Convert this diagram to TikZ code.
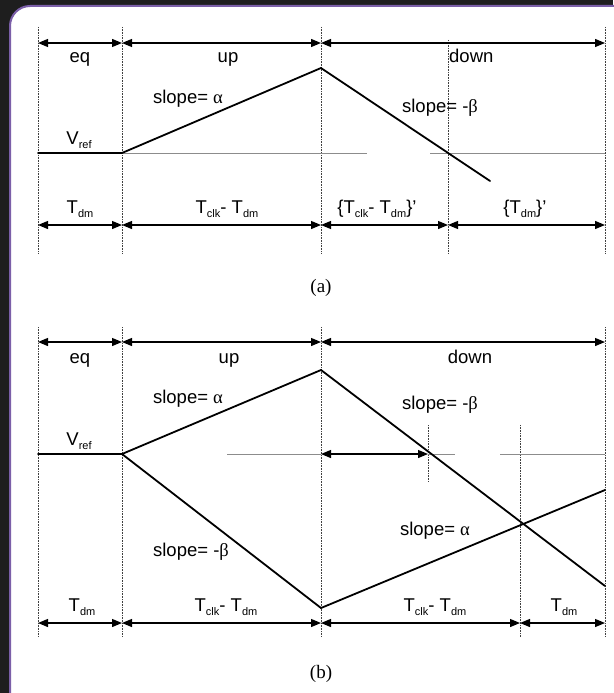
\documentclass[tikz,border=0pt]{standalone}
\usepackage{fontspec}
\setmainfont{Liberation Sans}
\newfontfamily\capfont{Liberation Serif}
\usetikzlibrary{arrows.meta}
\definecolor{bgdark}{HTML}{1E1E1E}
\definecolor{framepurple}{HTML}{7B5FA8}
\newcommand\sbs[1]{\raisebox{-0.25em}{\fontsize{11}{11}\selectfont #1}}
\newcommand\gra{{\capfont α}}
\newcommand\grb{{\capfont β}}
\begin{document}
\begin{tikzpicture}[x=1pt,y=-1pt,
  lbl/.style={font=\fontsize{18.5}{20}\selectfont, inner sep=0pt, anchor=base},
  capt/.style={font=\capfont\fontsize{19}{21}\selectfont, inner sep=0pt, anchor=base},
  wave/.style={line width=1.8pt, line join=miter, line cap=round},
  vref/.style={line width=0.8pt, black!45},
  gridline/.style={line width=0.7pt, black!75, dash pattern=on 0.8pt off 0.8pt},
  dim/.style={line width=1.2pt, {Triangle[length=10pt,width=8pt]}-{Triangle[length=10pt,width=8pt]}},
]
\useasboundingbox (0,0) rectangle (613,693);
\fill[bgdark] (0,0) rectangle (613,693);
\draw[framepurple, line width=2pt, fill=white, rounded corners=20pt] (10,6) rectangle (640,720);

% ---------------- panel (a) ----------------
\foreach \n/\x in {0/38,1/122,2/321,3/448,4/605}{
  \coordinate (aT\n) at (\x,43);
  \coordinate (aB\n) at (\x,225);
  \coordinate (aG\n) at (\x,27);
  \coordinate (aE\n) at (\x,253);
}
\coordinate (aG3) at (448,40);
\foreach \n in {0,1,2,3,4}{\draw[gridline] (aG\n) -- (aE\n);}
\draw[dim] (aT0) -- (aT1);
\draw[dim] (aT1) -- (aT2);
\draw[dim] (aT2) -- (aT4);
\draw[dim] (aB0) -- (aB1);
\draw[dim] (aB1) -- (aB2);
\draw[dim] (aB2) -- (aB3);
\draw[dim] (aB3) -- (aB4);

\coordinate (aV0) at (38,153);
\coordinate (aV1) at (122,153);
\coordinate (aPk) at (321,68);
\coordinate (aEnd) at (490,181);
\coordinate (aR1) at (367,153);
\coordinate (aR2) at (430,153);
\coordinate (aR3) at (605,153);
\draw[vref] (aV1) -- (aR1);
\draw[vref] (aR2) -- (aR3);
\draw[wave] (aV0) -- (aV1) -- (aPk) -- (aEnd);

\node[lbl] (aeq) at (80,63) {eq};
\node[lbl] (aup) at (228,63) {up};
\node[lbl, anchor=base west] (adown) at (449,63) {down};
\node[lbl] (asa) at (188,103) {slope= \gra};
\node[lbl] (asb) at (440,112) {slope= -\grb};
\node[lbl] (avr) at (79,144) {V\sbs{ref}};
\node[lbl] (at1) at (80,213) {T\sbs{dm}};
\node[lbl] (at2) at (227,213) {T\sbs{clk}- T\sbs{dm}};
\node[lbl] (at3) at (377,213) {\{T\sbs{clk}- T\sbs{dm}\}'};
\node[lbl] (at4) at (525,213) {\{T\sbs{dm}\}'};
\node[capt] (acap) at (321,292) {(a)};

% ---------------- panel (b) ----------------
\foreach \n/\x in {0/38,1/122,2/321,4/605}{
  \coordinate (bT\n) at (\x,342);
  \coordinate (bG\n) at (\x,327);
  \coordinate (bE\n) at (\x,637);
}
\foreach \n/\x in {0/38,1/122,2/321,3/520,4/605}{
  \coordinate (bB\n) at (\x,623);
}
\coordinate (bG3) at (520,425);
\coordinate (bE3) at (520,637);
\coordinate (bGx) at (428,425);
\coordinate (bEx) at (428,482);
\foreach \n in {0,1,2,3,4}{\draw[gridline] (bG\n) -- (bE\n);}
\draw[gridline] (bGx) -- (bEx);
\draw[dim] (bT0) -- (bT1);
\draw[dim] (bT1) -- (bT2);
\draw[dim] (bT2) -- (bT4);
\draw[dim] (bB0) -- (bB1);
\draw[dim] (bB1) -- (bB2);
\draw[dim] (bB2) -- (bB3);
\draw[dim] (bB3) -- (bB4);

\coordinate (bV0) at (38,454);
\coordinate (bV1) at (122,454);
\coordinate (bPk) at (321,370);
\coordinate (bEnd1) at (605,586);
\coordinate (bLo) at (321,608);
\coordinate (bEnd2) at (605,490);
\coordinate (bM) at (321,454);
\coordinate (bX) at (428,454);
\coordinate (bR0) at (227,454);
\coordinate (bR1) at (455,454);
\coordinate (bR2) at (500,454);
\coordinate (bR3) at (605,454);
\draw[vref] (bR0) -- (bM);
\draw[vref] (bX) -- (bR1);
\draw[vref] (bR2) -- (bR3);
\draw[dim] (bM) -- (bX);
\draw[wave] (bV0) -- (bV1) -- (bPk) -- (bEnd1);
\draw[wave] (bV1) -- (bLo) -- (bEnd2);

\node[lbl] (beq) at (80,363) {eq};
\node[lbl] (bup) at (229,363) {up};
\node[lbl] (bdown) at (470,363) {down};
\node[lbl] (bsa) at (188,403) {slope= \gra};
\node[lbl] (bsb) at (440,409) {slope= -\grb};
\node[lbl] (bvr) at (79,445) {V\sbs{ref}};
\node[lbl] (bsb2) at (191,556) {slope= -\grb};
\node[lbl] (bsa2) at (435,535) {slope= \gra};
\node[lbl] (bt1) at (82,611) {T\sbs{dm}};
\node[lbl] (bt2) at (226,611) {T\sbs{clk}- T\sbs{dm}};
\node[lbl] (bt3) at (435,611) {T\sbs{clk}- T\sbs{dm}};
\node[lbl] (bt4) at (564,611) {T\sbs{dm}};
\node[capt] (bcap) at (321,678) {(b)};
\end{tikzpicture}
\end{document}
